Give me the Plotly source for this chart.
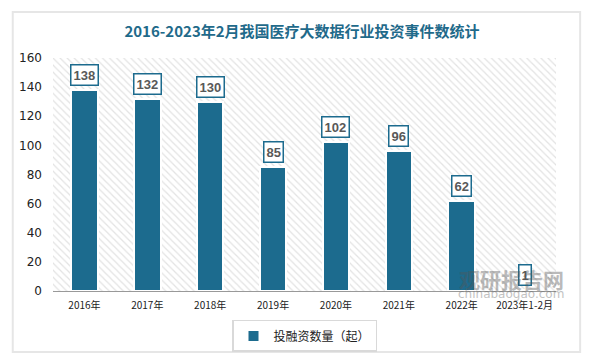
import plotly.graph_objects as go

categories = ["2016年", "2017年", "2018年", "2019年", "2020年", "2021年", "2022年", "2023年1-2月"]
values = [138, 132, 130, 85, 102, 96, 62, 1]
y_ticks = [0, 20, 40, 60, 80, 100, 120, 140, 160]
y_max = 160

bar_color = "#1C6B8E"
font_cn = "Noto Sans CJK SC"

fig = go.Figure()

# hatched background band
fig.add_trace(go.Bar(
    x=categories, y=[y_max] * len(categories), width=1,
    marker=dict(color="white", line=dict(width=0),
                pattern=dict(shape="\\", fgcolor="#c8c8c8", bgcolor="white", size=5, solidity=0.25)),
    hoverinfo="skip", showlegend=False,
))

fig.add_trace(go.Bar(
    x=categories, y=values, width=0.42, name="投融资数量（起）",
    marker=dict(color=bar_color, line=dict(color="white", width=2)),
))

for c, v in zip(categories, values):
    fig.add_annotation(
        x=c, y=v, text=str(v), showarrow=False, yanchor="bottom", yshift=4,
        font=dict(family="Liberation Sans, Arial", size=13, color="#595959", weight="bold"),
        bgcolor="white", bordercolor=bar_color, borderwidth=1.5, borderpad=2,
    )

# watermark
fig.add_annotation(xref="paper", yref="paper", x=1.02, y=0.05, xanchor="right", yanchor="middle",
                   text="<b>观研报告网</b>", showarrow=False, opacity=0.4,
                   font=dict(family=font_cn, size=21, color="#555555"))
fig.add_annotation(xref="paper", yref="paper", x=1.02, y=-0.015, xanchor="right", yanchor="middle",
                   text="chinabaogao.com", showarrow=False, opacity=0.4,
                   font=dict(family="DejaVu Sans", size=12, color="#666666"))

fig.add_shape(type="rect", xref="paper", yref="paper", x0=-0.08, x1=1.048, y0=-0.262, y1=1.197,
              line=dict(color="#e6e6e6", width=2), layer="below")

fig.update_layout(
    width=588, height=354,
    margin=dict(l=45, r=40, t=50, b=71, autoexpand=False),
    paper_bgcolor="white", plot_bgcolor="white",
    barmode="overlay", bargap=0,
    title=dict(text="<b>2016-2023年2月我国医疗大数据行业投资事件数统计</b>", x=0.5, xanchor="center",
               y=0.932, yanchor="middle",
               font=dict(family=font_cn, size=15, color="#1F6A8A")),
    xaxis=dict(showgrid=False, showline=True, linecolor="#999999", linewidth=1, ticks="",
               tickfont=dict(family=font_cn, size=10, color="#222222"), ticklabelstandoff=5),
    yaxis=dict(range=[0, y_max], tickvals=y_ticks, showgrid=False, zeroline=False, showline=False,
               tickfont=dict(family="DejaVu Sans", size=12, color="#222222"), ticklen=0,
               ticklabelstandoff=10),
    legend=dict(orientation="h", x=0.5, xanchor="center", y=-0.124, yanchor="top",
                bordercolor="#d9d9d9", borderwidth=1.5,
                font=dict(family=font_cn, size=12, color="#222222")),
    showlegend=True,
)

fig.write_html("out.html")
